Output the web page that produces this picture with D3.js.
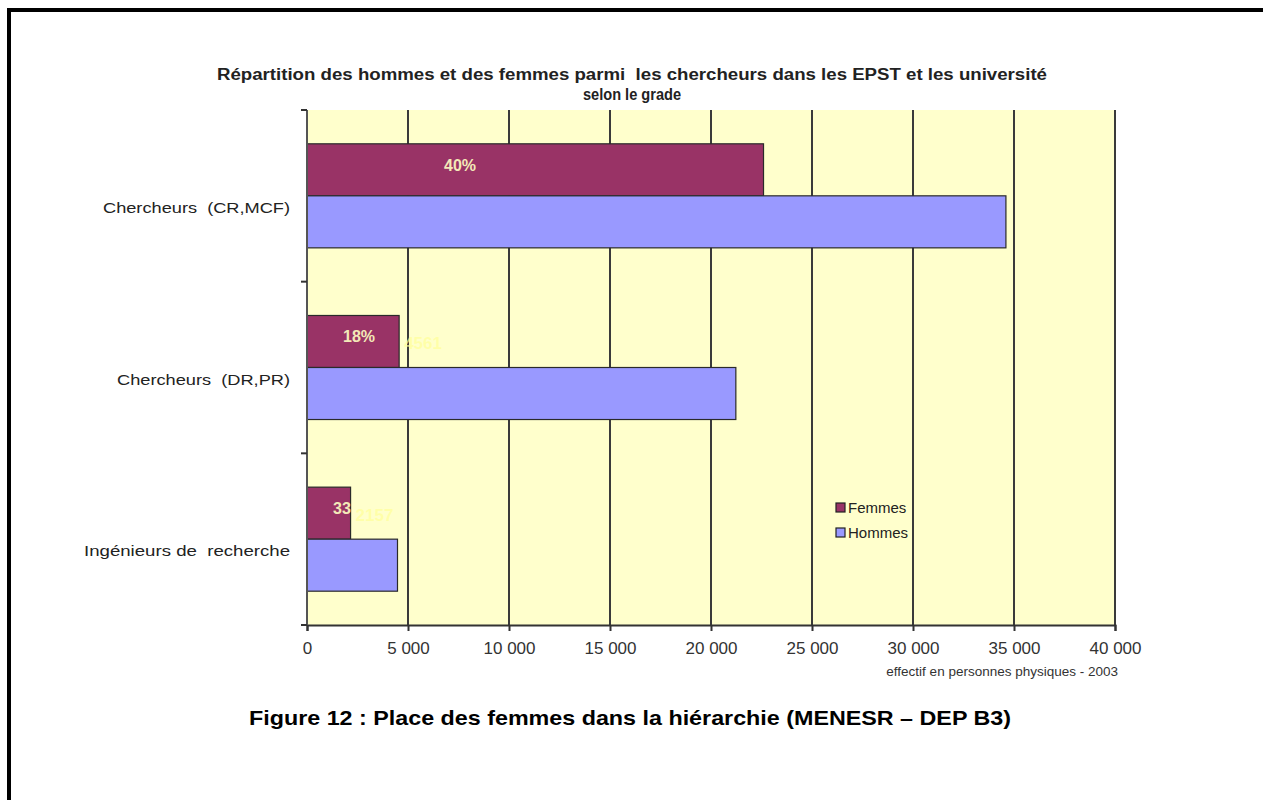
<!DOCTYPE html>
<html><head><meta charset="utf-8">
<script src="https://cdn.jsdelivr.net/npm/d3@7"></script>
<style>body{margin:0;background:#fff;} svg{display:block;font-family:"Liberation Sans",Arial,sans-serif;}</style>
</head><body>
<svg id="c" width="1263" height="800"></svg>
<script>
const categories = ["Chercheurs  (CR,MCF)", "Chercheurs  (DR,PR)", "Ingénieurs de  recherche"];
const series = ["Femmes", "Hommes"];
const femmes = [22600, 4561, 2157];
const hommes = [34600, 21230, 4480];
const pctLabels = ["40%", "18%", "33"];
const valueLabels = ["", "4561", "2157"];
const xTicks = [0, 5000, 10000, 15000, 20000, 25000, 30000, 35000, 40000];
const colors = {Femmes: "#993366", Hommes: "#9999FF"};

const svg = d3.select("#c");
// frame
svg.append("rect").attr("x",7).attr("y",8).attr("width",1256).attr("height",4).attr("fill","#000");
svg.append("rect").attr("x",7).attr("y",8).attr("width",4).attr("height",792).attr("fill","#000");

const L = 307, R = 1115, T = 110, B = 625;
const x = d3.scaleLinear().domain([0, 40000]).range([L, R]);
const y = d3.scaleBand().domain(categories).range([T, B]);
const sub = d3.scaleBand().domain(series).range([0, y.bandwidth()]).paddingInner(0).paddingOuter(0.65);

svg.append("rect").attr("x",L).attr("y",T).attr("width",R-L).attr("height",B-T).attr("fill","#FFFFCC");

// grid
svg.append("g").selectAll("line").data(xTicks.slice(1)).join("line")
  .attr("x1",d=>x(d)).attr("x2",d=>x(d)).attr("y1",T).attr("y2",B)
  .attr("stroke","#3a3a3a").attr("stroke-width",2);

// bars
const g = svg.append("g");
categories.forEach((c,i)=>{
  [["Femmes",femmes[i]],["Hommes",hommes[i]]].forEach(([s,v])=>{
    g.append("rect").attr("x",x(0)).attr("y",y(c)+sub(s)).attr("width",x(v)-x(0)).attr("height",sub.bandwidth())
      .attr("fill",colors[s]).attr("stroke","#2a2a2a").attr("stroke-width",1.2);
  });
});

// labels in bars
categories.forEach((c,i)=>{
  const yy = y(c)+sub("Femmes")+sub.bandwidth()/2+6;
  if (valueLabels[i]) {
    svg.append("text").attr("x",x(femmes[i])+5).attr("y",yy+2).attr("font-size",17).attr("font-weight","bold")
      .attr("fill","#FFFF99").attr("fill-opacity",0.7).text(valueLabels[i]);
  }
});
const pctX = [460, 359, 342];
categories.forEach((c,i)=>{
  const yy = y(c)+sub("Femmes")+sub.bandwidth()/2+1;
  svg.append("text").attr("x",pctX[i]).attr("y",yy).attr("text-anchor","middle").attr("font-size",16).attr("font-weight","bold")
    .attr("fill","#F3E9B8").text(pctLabels[i]);
});

// axes
const xAxis = d3.axisBottom(x).tickValues(xTicks).tickSize(6).tickFormat(d=>d3.format(",")(d).replace(/,/g," "));
const ax = svg.append("g").attr("transform",`translate(0,${B})`).call(xAxis);
ax.select(".domain").attr("stroke","#333").attr("stroke-width",2);
ax.selectAll(".tick line").attr("stroke","#333").attr("stroke-width",2);
ax.selectAll(".tick text").attr("font-size",17).attr("fill","#333").attr("dy","1.15em").attr("font-family","Liberation Sans, Arial");

svg.append("line").attr("x1",L).attr("x2",L).attr("y1",T).attr("y2",B).attr("stroke","#555").attr("stroke-width",2);
const bounds = [T, T+y.step(), T+2*y.step(), B];
svg.append("g").selectAll("line").data(bounds).join("line")
  .attr("x1",L-6).attr("x2",L).attr("y1",d=>d).attr("y2",d=>d).attr("stroke","#333").attr("stroke-width",2);

const labelW = [187, 173, 206];
svg.append("g").selectAll("text").data(categories).join("text")
  .attr("x",290).attr("y",d=>y(d)+sub("Hommes")+17).attr("text-anchor","end")
  .attr("font-size",15.5).attr("fill","#222").style("white-space","pre")
  .attr("textLength",(d,i)=>labelW[i]).attr("lengthAdjust","spacingAndGlyphs").text(d=>d);

// legend
series.forEach((s,i)=>{
  const ly = 507 + i*25;
  svg.append("rect").attr("x",836).attr("y",ly-4).attr("width",9).attr("height",9).attr("fill",colors[s]).attr("stroke","#222").attr("stroke-width",1.2);
  svg.append("text").attr("x",848).attr("y",ly+6).attr("font-size",15).attr("fill","#222").text(s);
});

// titles
svg.append("text").attr("x",632).attr("y",80).attr("text-anchor","middle").attr("font-size",16).attr("font-weight","bold")
  .attr("fill","#222").attr("textLength",830).attr("lengthAdjust","spacingAndGlyphs").style("white-space","pre")
  .text("Répartition des hommes et des femmes parmi  les chercheurs dans les EPST et les université");
svg.append("text").attr("x",632).attr("y",100).attr("text-anchor","middle").attr("font-size",16).attr("font-weight","bold")
  .attr("fill","#222").attr("textLength",98).attr("lengthAdjust","spacingAndGlyphs").text("selon le grade");
svg.append("text").attr("x",1118).attr("y",676).attr("text-anchor","end").attr("font-size",13.5).attr("fill","#333")
  .text("effectif en personnes physiques - 2003");
svg.append("text").attr("x",630).attr("y",725).attr("text-anchor","middle").attr("font-size",21).attr("font-weight","bold")
  .attr("fill","#000").attr("textLength",762).attr("lengthAdjust","spacingAndGlyphs")
  .text("Figure 12 : Place des femmes dans la hiérarchie (MENESR – DEP B3)");
</script>
</body></html>
